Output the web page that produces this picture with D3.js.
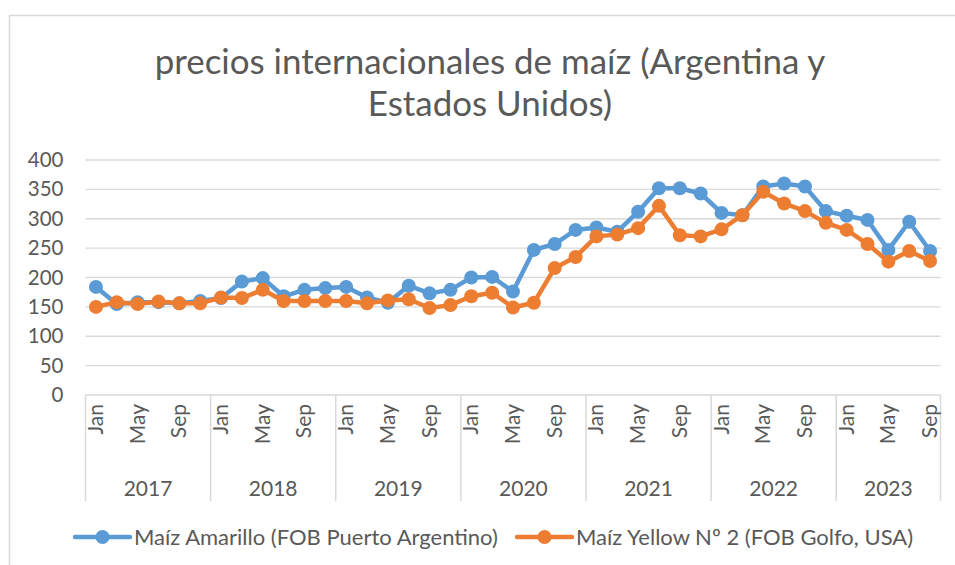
<!DOCTYPE html>
<html>
<head>
<meta charset="utf-8">
<script src="https://cdn.jsdelivr.net/npm/d3@7"></script>
<style>
  body { margin: 0; background: #fff; }
  svg text { font-family: Lato, "Open Sans", sans-serif; fill: #595959; }
</style>
</head>
<body>
<svg id="chart" width="955" height="565"></svg>
<script>
// data: bi-monthly prices, Jan 2017 .. Sep 2023
const years = ['2017', '2018', '2019', '2020', '2021', '2022', '2023'];
const months = ['Jan', 'Mar', 'May', 'Jul', 'Sep', 'Nov'];
const monthTicks = ['Jan', 'May', 'Sep'];
const yTicks = [0, 50, 100, 150, 200, 250, 300, 350, 400];

const argentina = [
  184, 155, 158, 158, 156, 160,
  165, 193, 199, 168, 179, 182,
  184, 166, 157, 186, 173, 179,
  200, 201, 176, 247, 257, 281,
  285, 278, 312, 352, 352, 343,
  310, 306, 355, 360, 355, 313,
  305, 298, 247, 295, 245
];
const usa = [
  150, 158, 155, 159, 156, 156,
  166, 165, 179, 160, 160, 160,
  160, 156, 161, 163, 148, 153,
  168, 174, 149, 157, 216, 235,
  270, 273, 284, 322, 272, 270,
  282, 306, 346, 326, 313, 293,
  281, 257, 227, 245, 228
];

const seriesNames = ['Maíz Amarillo (FOB Puerto Argentino)', 'Maíz Yellow Nº 2 (FOB Golfo, USA)'];
const colors = ['#5B9BD5', '#ED7D31'];

// category list
const cats = [];
years.forEach(yr => months.forEach(m => cats.push({ year: yr, month: m })));
cats.length = argentina.length;
cats.forEach((c, i) => c.key = i);

const svg = d3.select('#chart');
const plotLeft = 85.5, plotRight = 940.5, plotTop = 160, plotBottom = 395;

// outer frame
svg.append('rect')
  .attr('x', 9.5).attr('y', 15.5)
  .attr('width', 1000).attr('height', 600)
  .attr('fill', 'none').attr('stroke', '#D9D9D9').attr('stroke-width', 1.5);

const x = d3.scaleBand().domain(cats.map(c => c.key)).range([plotLeft, plotRight]);
const y = d3.scaleLinear().domain([0, 400]).range([plotBottom, plotTop]);

// gridlines
svg.append('g').selectAll('line').data(yTicks).join('line')
  .attr('x1', plotLeft).attr('x2', plotRight)
  .attr('y1', d => y(d)).attr('y2', d => y(d))
  .attr('stroke', '#D9D9D9').attr('stroke-width', 1.3);

// y axis labels
const yAxis = svg.append('g')
  .attr('transform', `translate(${plotLeft - 22},0)`)
  .call(d3.axisLeft(y).tickValues(yTicks).tickSize(0).tickPadding(0));
yAxis.select('.domain').remove();
yAxis.selectAll('text')
  .attr('font-size', 20.5).attr('fill', '#595959')
  .attr('font-family', 'Lato, sans-serif');

// category axis: year separators
const yearBounds = years.map(yr => {
  const idx = cats.filter(c => c.year === yr).map(c => c.key);
  return { year: yr, x0: x(idx[0]), x1: x(idx[idx.length - 1]) + x.bandwidth() };
});
const sepX = [plotLeft].concat(yearBounds.map(b => b.x1));
sepX[sepX.length - 1] = plotRight;
svg.append('g').selectAll('line').data(sepX).join('line')
  .attr('x1', d => d).attr('x2', d => d)
  .attr('y1', plotBottom).attr('y2', 501)
  .attr('stroke', '#D9D9D9').attr('stroke-width', 1.5);

// month labels (every other category)
svg.append('g').selectAll('text')
  .data(cats.filter(c => monthTicks.includes(c.month)))
  .join('text')
  .attr('transform', c => `translate(${x(c.key) + x.bandwidth() / 2 + 7},404) rotate(-90)`)
  .attr('text-anchor', 'end')
  .attr('font-size', 21)
  .text(c => c.month);

// year labels
svg.append('g').selectAll('text').data(yearBounds).join('text')
  .attr('x', b => (b.x0 + Math.min(b.x1, plotRight)) / 2)
  .attr('y', 496)
  .attr('text-anchor', 'middle')
  .attr('font-size', 21)
  .text(b => b.year);

// series
const line = d3.line().x((d, i) => x(i) + x.bandwidth() / 2).y(d => y(d));
[argentina, usa].forEach((vals, s) => {
  const g = svg.append('g');
  g.append('path').datum(vals)
    .attr('d', line)
    .attr('fill', 'none')
    .attr('stroke', colors[s])
    .attr('stroke-width', 4.5)
    .attr('stroke-linejoin', 'round')
    .attr('stroke-linecap', 'round');
  g.selectAll('circle').data(vals).join('circle')
    .attr('cx', (d, i) => x(i) + x.bandwidth() / 2)
    .attr('cy', d => y(d))
    .attr('r', 7)
    .attr('fill', colors[s]);
});

// legend
const legendX = [75, 517];
seriesNames.forEach((name, s) => {
  const g = svg.append('g').attr('transform', `translate(${legendX[s]},537)`);
  g.append('line').attr('x1', 0).attr('x2', 55).attr('y1', 0).attr('y2', 0)
    .attr('stroke', colors[s]).attr('stroke-width', 4.5).attr('stroke-linecap', 'round');
  g.append('circle').attr('cx', 27.5).attr('cy', 0).attr('r', 7).attr('fill', colors[s]);
  g.append('text').attr('x', 59).attr('y', 8).attr('font-size', 22).text(name);
});

// title
const titleLines = ['precios internacionales de maíz (Argentina y', 'Estados Unidos)'];
const title = svg.append('g');
title.selectAll('text').data(titleLines).join('text')
  .attr('x', 490)
  .attr('y', (d, i) => 74 + i * 42)
  .attr('text-anchor', 'middle')
  .attr('font-size', 31)
  .text(d => d);
// fit the first line to the width seen in the chart
const first = title.select('text').node();
const w = first.getComputedTextLength();
const fs = 31 * 671 / w;
title.selectAll('text').attr('font-size', fs);
</script>
</body>
</html>
